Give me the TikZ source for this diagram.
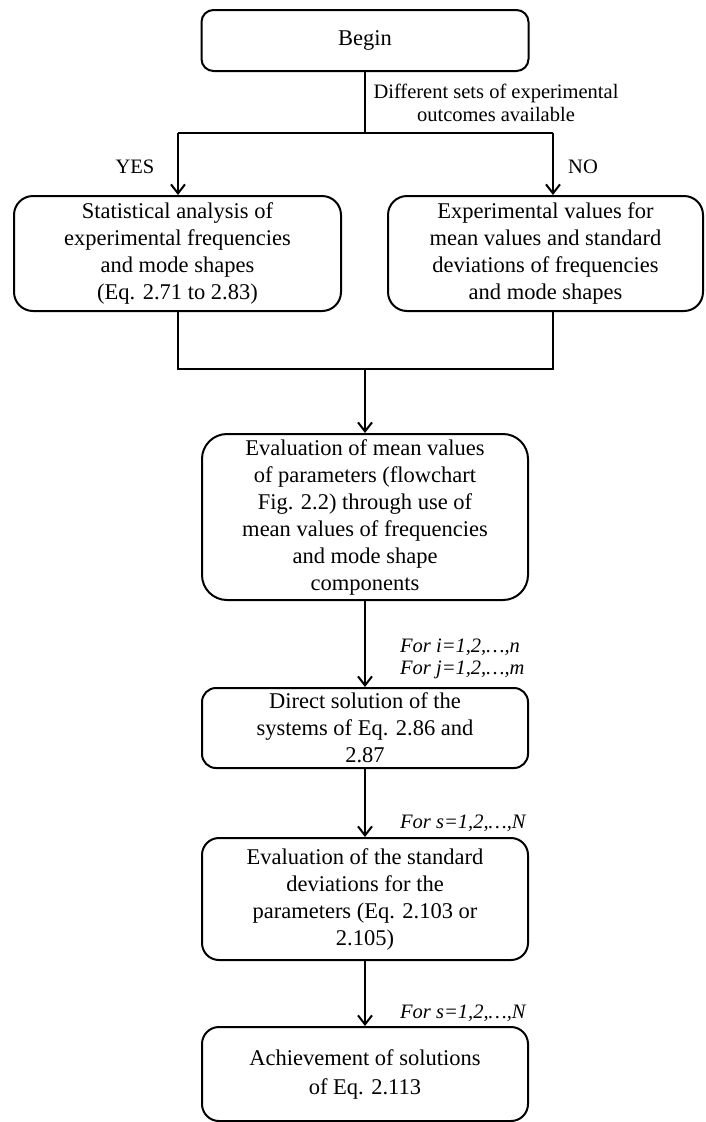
\documentclass[tikz,border=0pt]{standalone}
\usepackage{fontspec}
\setmainfont{Liberation Serif}
\usetikzlibrary{arrows.meta}
\begin{document}
\begin{tikzpicture}[x=1pt,y=-1pt,
  box/.style={draw, line width=2pt, align=center, inner sep=0pt,
    font=\fontsize{22.5}{27}\selectfont},
  lab/.style={inner sep=0pt, align=center, font=\fontsize{20.5}{23}\selectfont},
  looplab/.style={inner sep=0pt, anchor=west, align=left,
    font=\fontsize{20.5}{22}\selectfont\itshape},
  wire/.style={line width=2pt},
  arr/.style={line width=2pt, -{Straight Barb[length=9pt,width=14pt,line width=2pt]}}
]
\useasboundingbox (0,0) rectangle (705,1122);

% process boxes
\node[box, minimum width=327pt, minimum height=61pt, rounded corners=12pt]
  (begin) at (365,40.5) {Begin};
\node[box, minimum width=327pt, minimum height=115pt, rounded corners=19pt]
  (stat) at (177.5,253.5) {Statistical analysis of\\experimental frequencies\\and mode shapes\\(Eq. 2.71 to 2.83)};
\node[box, minimum width=315pt, minimum height=115pt, rounded corners=19pt]
  (expv) at (545.5,253.5) {Experimental values for\\mean values and standard\\deviations of frequencies\\and mode shapes};
\node[box, minimum width=326pt, minimum height=166pt, rounded corners=25pt]
  (meanpar) at (365,517) {Evaluation of mean values\\of parameters (flowchart\\Fig. 2.2) through use of\\mean values of frequencies\\and mode shape\\components};
\node[box, minimum width=326pt, minimum height=80pt, rounded corners=14pt]
  (direct) at (365,728) {Direct solution of the\\systems of Eq. 2.86 and\\2.87};
\node[box, minimum width=326pt, minimum height=122pt, rounded corners=17pt]
  (stddev) at (365,899) {Evaluation of the standard\\deviations for the\\parameters (Eq. 2.103 or\\2.105)};
\node[box, minimum width=326pt, minimum height=94pt, rounded corners=17pt,
  font=\fontsize{22.5}{29}\selectfont]
  (achieve) at (365,1074) {Achievement of solutions\\of Eq. 2.113};

% labels
\node[lab] (cond) at (496,103) {Different sets of experimental\\outcomes available};
\node[lab] (yes) at (135,167) {YES};
\node[lab] (no) at (583,167) {NO};
\node[looplab] (loopij) at (400,659) {For i=1,2,\ldots,n\\For j=1,2,\ldots,m};
\node[looplab] (loops1) at (400,823) {For s=1,2,\ldots,N};
\node[looplab] (loops2) at (400,1013) {For s=1,2,\ldots,N};

% branching after Begin
\coordinate (split) at (365,133);
\coordinate (jl) at (178,133);
\coordinate (jr) at (553,133);
\draw[wire] (begin.south) -- (split);
\draw[wire] (jl) -- (jr);
\draw[arr] (jl) -- (jl |- stat.north);
\draw[arr] (jr) -- (jr |- expv.north);

% merging into the mean-value evaluation
\coordinate (ml) at (178,369);
\coordinate (mr) at (553,369);
\coordinate (merge) at (365,369);
\draw[wire] (ml |- stat.south) -- (ml) -- (mr) -- (mr |- expv.south);
\draw[arr] (merge) -- (meanpar.north);

% main sequence
\draw[arr] (meanpar.south) -- (direct.north);
\draw[arr] (direct.south) -- (stddev.north);
\draw[arr] (stddev.south) -- (achieve.north);
\end{tikzpicture}
\end{document}
